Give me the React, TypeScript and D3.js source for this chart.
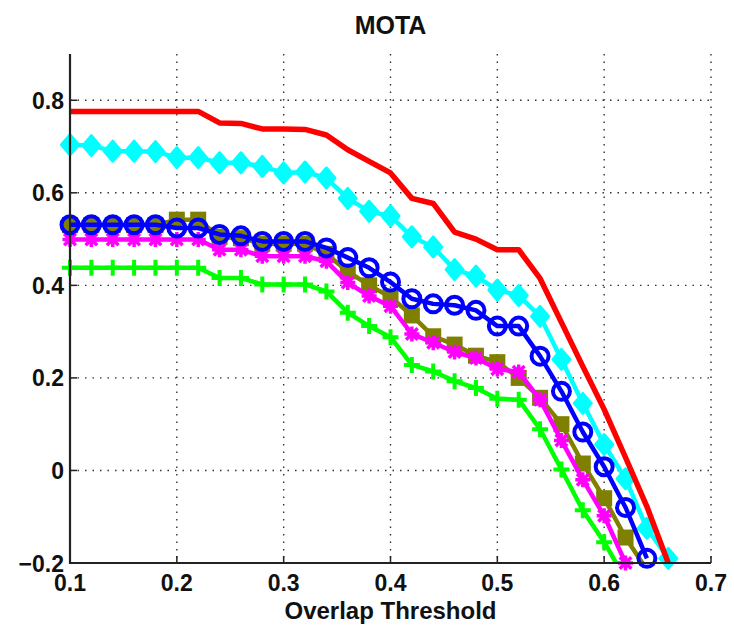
import React from 'react';
import * as d3 from 'd3';

// overlap thresholds 0.10 .. 0.66, step 0.02
const thresholds = [
  0.10, 0.12, 0.14, 0.16, 0.18, 0.20, 0.22, 0.24, 0.26, 0.28,
  0.30, 0.32, 0.34, 0.36, 0.38, 0.40, 0.42, 0.44, 0.46, 0.48,
  0.50, 0.52, 0.54, 0.56, 0.58, 0.60, 0.62, 0.64, 0.66,
];

const redValues = [
  0.776, 0.776, 0.776, 0.776, 0.776, 0.776, 0.776, 0.751, 0.750, 0.738,
  0.738, 0.737, 0.725, 0.693, 0.668, 0.643, 0.588, 0.577, 0.515, 0.500,
  0.477, 0.477, 0.415, 0.320, 0.225, 0.132, 0.028, -0.078, -0.200,
];
const cyanValues = [
  0.704, 0.702, 0.690, 0.690, 0.689, 0.676, 0.676, 0.665, 0.665, 0.657,
  0.643, 0.645, 0.632, 0.588, 0.560, 0.550, 0.505, 0.483, 0.434, 0.420,
  0.390, 0.378, 0.333, 0.240, 0.145, 0.056, -0.018, -0.125, -0.190,
];
const blueValues = [
  0.531, 0.531, 0.531, 0.531, 0.531, 0.524, 0.524, 0.510, 0.507, 0.495,
  0.495, 0.495, 0.481, 0.460, 0.438, 0.407, 0.371, 0.360, 0.357, 0.346,
  0.312, 0.312, 0.247, 0.171, 0.083, 0.008, -0.080, -0.190,
];
const oliveValues = [
  0.530, 0.530, 0.530, 0.530, 0.530, 0.542, 0.542, 0.505, 0.502, 0.490,
  0.490, 0.490, 0.468, 0.430, 0.400, 0.375, 0.335, 0.290, 0.272, 0.248,
  0.234, 0.200, 0.157, 0.100, 0.015, -0.060, -0.145, -0.215,
];
const magentaValues = [
  0.499, 0.499, 0.499, 0.499, 0.499, 0.499, 0.499, 0.477, 0.477, 0.463,
  0.463, 0.463, 0.452, 0.406, 0.377, 0.355, 0.295, 0.276, 0.256, 0.243,
  0.219, 0.213, 0.153, 0.065, -0.020, -0.098, -0.200,
];
const greenValues = [
  0.438, 0.438, 0.438, 0.438, 0.438, 0.438, 0.438, 0.416, 0.416, 0.402,
  0.402, 0.402, 0.387, 0.341, 0.312, 0.288, 0.228, 0.214, 0.193, 0.178,
  0.155, 0.153, 0.089, 0.002, -0.086, -0.155, -0.235,
];

const xTicks = [0.1, 0.2, 0.3, 0.4, 0.5, 0.6, 0.7];
const yTicks = [-0.2, 0, 0.2, 0.4, 0.6, 0.8];

const chartTitle = 'MOTA';
const xLabel = 'Overlap Threshold';

// drawing order: bottom first
const series = [
  { name: 'green', values: greenValues, color: '#00ff00', marker: 'plus', width: 4.5 },
  { name: 'olive', values: oliveValues, color: '#808000', marker: 'square', width: 4.5 },
  { name: 'magenta', values: magentaValues, color: '#ff00ff', marker: 'star', width: 4.5 },
  { name: 'cyan', values: cyanValues, color: '#00ffff', marker: 'diamond', width: 4.5 },
  { name: 'blue', values: blueValues, color: '#0000ff', marker: 'circle', width: 4.5 },
  { name: 'red', values: redValues, color: '#ff0000', marker: 'none', width: 5.5 },
];

const W = 734;
const H = 625;
const left = 70, right = 711, top = 54, bottom = 563;
const font = '"Liberation Sans", Arial, Helvetica, sans-serif';

function Marker({ kind, cx, cy, color }) {
  if (kind === 'circle') {
    return <circle cx={cx} cy={cy} r={8.5} fill="none" stroke={color} strokeWidth={4} />;
  }
  if (kind === 'diamond') {
    const d = `M${cx},${cy - 10}L${cx + 8.5},${cy}L${cx},${cy + 10}L${cx - 8.5},${cy}Z`;
    return <path d={d} fill={color} stroke={color} strokeWidth={3} strokeLinejoin="round" />;
  }
  if (kind === 'square') {
    return <rect x={cx - 7} y={cy - 7} width={14} height={14} fill={color} stroke={color} strokeWidth={2} />;
  }
  if (kind === 'plus') {
    const s = 8;
    return <path d={`M${cx - s},${cy}H${cx + s}M${cx},${cy - s}V${cy + s}`} stroke={color} strokeWidth={4} />;
  }
  if (kind === 'star') {
    const s = 7.5, t = 5.8;
    const d = `M${cx - s},${cy}H${cx + s}M${cx},${cy - s}V${cy + s}` +
      `M${cx - t},${cy - t}L${cx + t},${cy + t}M${cx - t},${cy + t}L${cx + t},${cy - t}`;
    return <path d={d} stroke={color} strokeWidth={3.5} />;
  }
  return null;
}

export default function App() {
  const x = d3.scaleLinear().domain([0.1, 0.7]).range([left, right]);
  const y = d3.scaleLinear().domain([-0.2, 0.9]).range([bottom, top]);

  const line = d3.line<number>()
    .x((d, i) => x(thresholds[i]))
    .y(d => y(d));

  return (
    <svg width={W} height={H} style={{ position: 'absolute', left: 0, top: 0, background: '#fff' }}
      fontFamily={font}>
      <defs>
        <clipPath id="plotArea">
          <rect x={left} y={top} width={right - left} height={bottom - top} />
        </clipPath>
      </defs>

      {/* grid */}
      <g stroke="#333" strokeWidth={1.4} strokeDasharray="1.5,6">
        {xTicks.slice(1).map(t => (
          <line key={'gx' + t} x1={x(t)} x2={x(t)} y1={top} y2={bottom} />
        ))}
        {yTicks.slice(1).map(t => (
          <line key={'gy' + t} x1={left} x2={right} y1={y(t)} y2={y(t)} />
        ))}
      </g>

      {/* tick marks (inward) */}
      <g stroke="#222" strokeWidth={1.5}>
        {xTicks.map(t => (
          <line key={'tx' + t} x1={x(t)} x2={x(t)} y1={bottom} y2={bottom - 7} />
        ))}
        {yTicks.map(t => (
          <line key={'ty' + t} x1={left} x2={left + 7} y1={y(t)} y2={y(t)} />
        ))}
      </g>

      {/* one group per series so later series sit on top */}
      {series.map(s => (
        <g key={s.name}>
          <path d={line(s.values) || ''} stroke={s.color} strokeWidth={s.width} fill="none"
            strokeLinejoin="round" clipPath="url(#plotArea)" />
          {s.values.map((v, i) => (v >= -0.2 ? (
            <Marker key={i} kind={s.marker} cx={x(thresholds[i])} cy={y(v)} color={s.color} />
          ) : null))}
        </g>
      ))}

      {/* axes */}
      <line x1={left} x2={left} y1={top} y2={bottom + 1} stroke="#222" strokeWidth={2.2} />
      <line x1={left - 1} x2={right} y1={bottom} y2={bottom} stroke="#222" strokeWidth={2.2} />

      {/* tick labels */}
      <g fontSize={23} fontWeight="bold" fill="#111">
        {xTicks.map(t => (
          <text key={'lx' + t} x={x(t)} y={591} textAnchor="middle">{d3.format('.1f')(t)}</text>
        ))}
        {yTicks.map(t => (
          <text key={'ly' + t} x={left - 6} y={y(t) + 8.5} textAnchor="end">
            {t === 0 ? '0' : d3.format('.1f')(t).replace('-', '\u2212')}
          </text>
        ))}
      </g>

      <text x={(left + right) / 2} y={34} textAnchor="middle" fontSize={25} fontWeight="bold" fill="#111">
        {chartTitle}
      </text>
      <text x={(left + right) / 2} y={619} textAnchor="middle" fontSize={24} fontWeight="bold" fill="#111">
        {xLabel}
      </text>
    </svg>
  );
}
